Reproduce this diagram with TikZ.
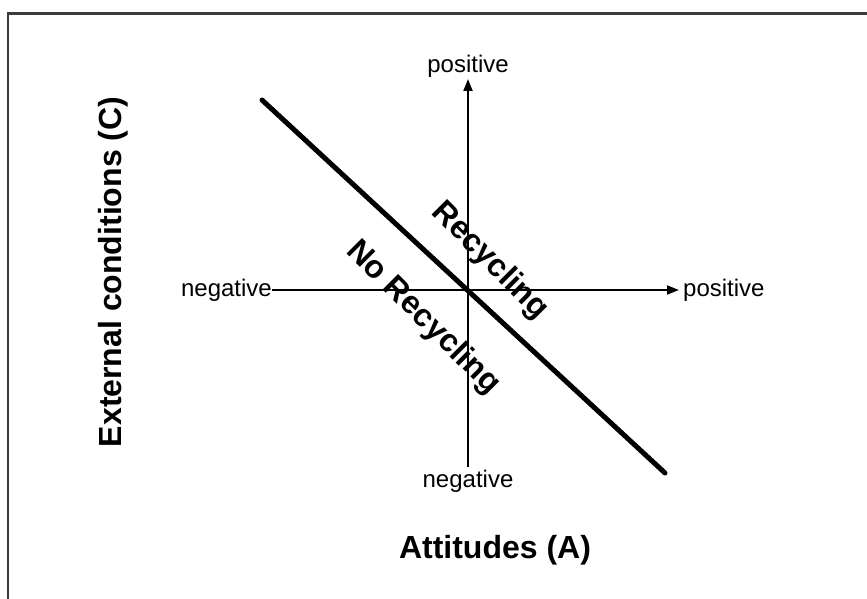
\documentclass[tikz,border=0pt]{standalone}
\usepackage{fontspec}
\setmainfont{Liberation Sans}
\usepackage{tikz}
\usetikzlibrary{arrows.meta,positioning}
\definecolor{framegray}{HTML}{3C3C3C}

\begin{document}
\begin{tikzpicture}[x=1pt,y=-1pt,
  axisline/.style={line width=2pt,-{Triangle[length=12pt,width=9pt]}},
  ticklbl/.style={font=\fontsize{24}{26}\selectfont,inner sep=0pt},
  axislbl/.style={font=\fontsize{32}{34}\selectfont\bfseries,inner sep=0pt},
  zonelbl/.style={font=\fontsize{32}{34}\selectfont\bfseries,inner sep=0pt,rotate=-45}]
  \useasboundingbox (0,0) rectangle (867,599);
  % frame (only left and top edge visible)
  \draw[framegray,line width=2.5pt] (8,600) -- (8,13.5) -- (868,13.5);
  % axes
  \coordinate (O) at (468,290);
  \coordinate (xl) at (272,290);
  \coordinate (xr) at (679,290);
  \coordinate (yt) at (468,79);
  \coordinate (yb) at (468,467);
  \draw[line width=2pt] (xl) -- (O);
  \draw[axisline] (O) -- (xr);
  \draw[line width=2pt] (yb) -- (O);
  \draw[axisline] (O) -- (yt);
  % axis end labels
  \node[ticklbl,left=0pt of xl] (negA) {negative};
  \node[ticklbl,right=4pt of xr] (posA) {positive};
  \node[ticklbl,above=1pt of yt] (posC) {positive};
  \node[ticklbl,below=3pt of yb] (negC) {negative};
  % dividing line
  \coordinate (dl) at (262,100);
  \coordinate (dr) at (665,473);
  \draw[line width=5pt,line cap=round] (dl) -- (dr);
  % zones
  \node[zonelbl] (yes) at (490,261) {Recycling};
  \node[zonelbl] (no) at (423,318) {No Recycling};
  % axis titles
  \node[axislbl,rotate=90] (ctitle) at (113,272) {External conditions (C)};
  \node[axislbl] (atitle) at (495,550) {Attitudes (A)};
\end{tikzpicture}
\end{document}
